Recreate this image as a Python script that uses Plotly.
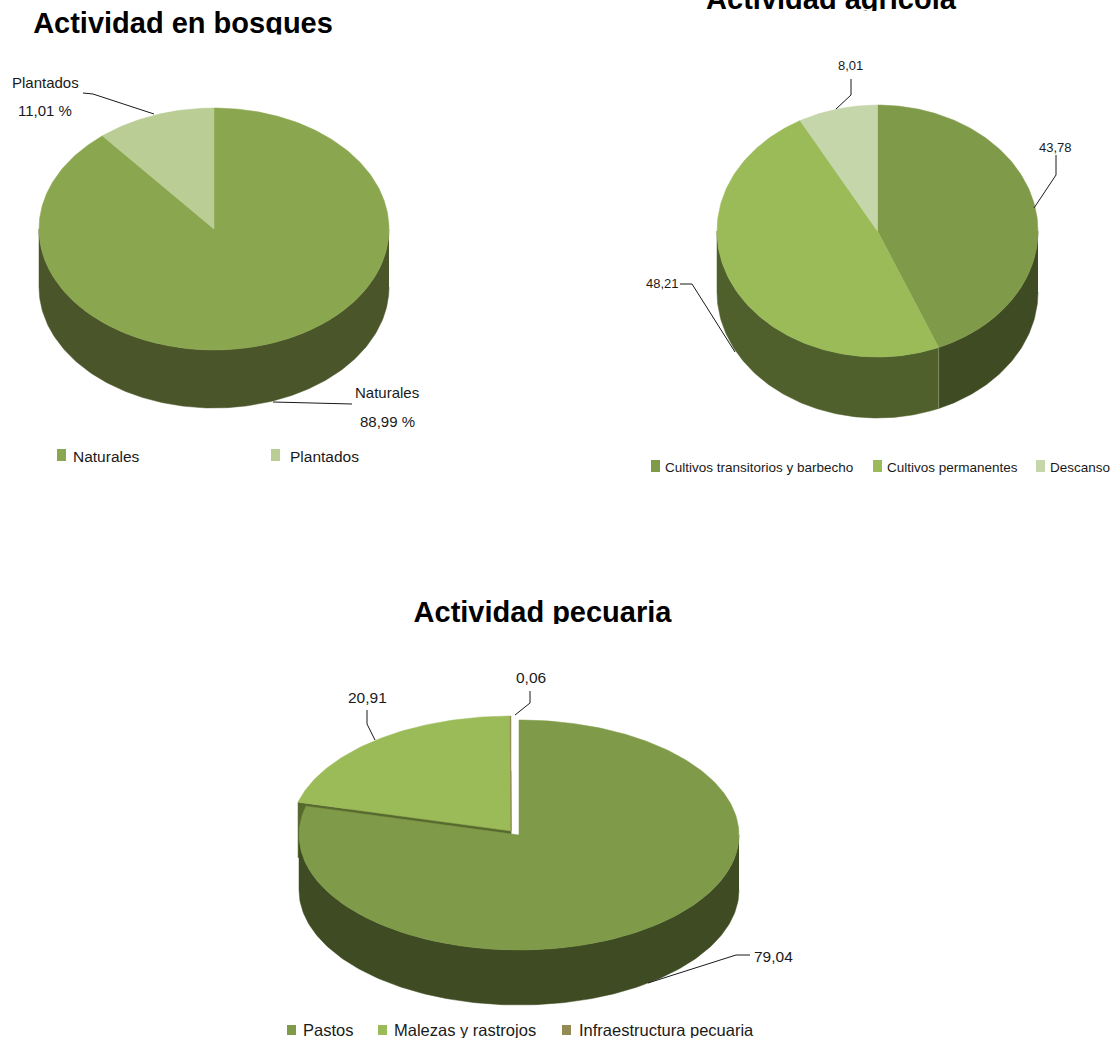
import numpy as np
import plotly.graph_objects as go

W, H = 1115, 1038

# ---- data ----
bosques_names = ["Naturales", "Plantados"]
bosques_values = [88.99, 11.01]
agricola_names = ["Cultivos transitorios y barbecho", "Cultivos permanentes", "Descanso"]
agricola_values = [43.78, 48.21, 8.01]
pecuaria_names = ["Pastos", "Malezas y rastrojos", "Infraestructura pecuaria"]
pecuaria_values = [79.04, 20.91, 0.06]
titles = ["Actividad en bosques", "Actividad agrícola", "Actividad pecuaria"]

# ---- styles and layout ----
NARROW = "Liberation Sans, sans-serif"
WIDE = "Liberation Sans, sans-serif"
TXT = "#1a1a1a"

pies = [
    dict(values=bosques_values, names=bosques_names, cx=214, cy=229, rx=175, ry=121, depth=58,
         top=["#8AA64F", "#B9CD95"], side=["#4A5529", "#6E7F48"], offsets=[(0, 0), (0, 0)]),
    dict(values=agricola_values, names=agricola_names, cx=877.5, cy=231, rx=160.5, ry=126, depth=61,
         top=["#7F9A48", "#9BBB59", "#C5D6AA"], side=["#3F4B23", "#50602D", "#6E7F48"],
         offsets=[(0, 0), (0, 0), (0, 0)]),
    dict(values=pecuaria_values, names=pecuaria_names, cx=519, cy=835, rx=220, ry=115, depth=55,
         top=["#7F9A48", "#9BBB59", "#948A54"], side=["#3F4C23", "#58692F", "#58692F"],
         offsets=[(0, 0), (-8, -4), (-8, -4)]),
]


def arc(p, a0, a1, dx=0, dy=0, drop=0):
    n = max(2, int(abs(a1 - a0) / 1.0) + 2)
    t = np.radians(np.linspace(a0, a1, n))
    return p["cx"] + dx + p["rx"] * np.sin(t), p["cy"] + dy + drop - p["ry"] * np.cos(t)


fig = go.Figure()


def poly(x, y, color):
    fig.add_trace(go.Scatter(x=list(x), y=list(y), mode="lines", fill="toself", fillcolor=color,
                             line=dict(color=color, width=0.5), hoverinfo="skip", showlegend=False))


for p in pies:
    total = sum(p["values"])
    angles = np.concatenate([[0], np.cumsum(p["values"]) / total * 360])
    exploded = any(o != (0, 0) for o in p["offsets"])

    # the inner and outer faces of exploded slices lie behind the main top
    if exploded:
        for i in range(1, len(p["values"])):
            a0, a1 = angles[i], angles[i + 1]
            dx, dy = p["offsets"][i]
            xa, ya = arc(p, a0, a1, dx, dy)
            poly(np.r_[p["cx"] + dx, xa, p["cx"] + dx],
                 np.r_[p["cy"] + dy + p["depth"], ya + p["depth"], p["cy"] + dy + p["depth"]],
                 p["side"][i])
            sx, sy = arc(p, a0, a0, dx, dy)
            poly([p["cx"] + dx, sx[0], sx[0], p["cx"] + dx],
                 [p["cy"] + dy, sy[0], sy[0] + p["depth"], p["cy"] + dy + p["depth"]],
                 p["side"][i])

    # outer wall, only the front half can be seen
    for i in range(len(p["values"])):
        a0, a1 = max(angles[i], 90), min(angles[i + 1], 270)
        if a1 <= a0:
            continue
        dx, dy = p["offsets"][i]
        xu, yu = arc(p, a0, a1, dx, dy)
        xl, yl = arc(p, a1, a0, dx, dy, p["depth"])
        poly(np.r_[xu, xl], np.r_[yu, yl], p["side"][i])

    # top faces
    for i in range(len(p["values"])):
        dx, dy = p["offsets"][i]
        xa, ya = arc(p, angles[i], angles[i + 1], dx, dy)
        poly(np.r_[p["cx"] + dx, xa, p["cx"] + dx], np.r_[p["cy"] + dy, ya, p["cy"] + dy], p["top"][i])

shapes = []

# seam between the two walls of the second pie
p = pies[1]
seam = sum(p["values"][:1]) / sum(p["values"]) * 360
sx, sy = arc(p, seam, seam)
shapes.append(dict(type="line", x0=sx[0], x1=sx[0], y0=sy[0], y1=sy[0] + p["depth"],
                   line=dict(color="#7C8B5C", width=1), xref="x", yref="y"))

# leader lines
leaders = [
    [(83, 93), (93, 94), (154, 114)],
    [(273, 402), (352, 404)],
    [(851, 79), (851, 95), (836, 109)],
    [(1056, 155), (1056, 175), (1034, 208)],
    [(680, 284), (692, 284), (735, 352)],
    [(367, 710), (367, 724), (375, 740)],
    [(530, 691), (530, 703), (515, 715)],
    [(750, 955), (736, 955), (648, 983)],
]
for pts in leaders:
    path = "M " + " L ".join(f"{x},{y}" for x, y in pts)
    shapes.append(dict(type="path", path=path, xref="x", yref="y", line=dict(color="#1a1a1a", width=1)))

annotations = []


def label(text, x, y, size, family=NARROW, anchor="center"):
    annotations.append(dict(text=text, x=x, y=y, xref="x", yref="y", showarrow=False, xanchor=anchor,
                            yanchor="middle", font=dict(family=family, size=size, color=TXT)))


def num(v, suffix=""):
    return f"{v:.2f}".replace(".", ",") + suffix


label(bosques_names[1], 45, 82, 15)
label(num(bosques_values[1], " %"), 45, 110, 15)
label(bosques_names[0], 387, 392, 15)
label(num(bosques_values[0], " %"), 387, 421, 15)
label(num(agricola_values[2]), 850, 65, 13)
label(num(agricola_values[0]), 1055, 147, 13)
label(num(agricola_values[1]), 662, 283, 13)
label(num(pecuaria_values[1]), 367, 697, 15.5, WIDE)
label(num(pecuaria_values[2]), 531, 677, 15.5, WIDE)
label(num(pecuaria_values[0]), 773, 956, 15.5, WIDE)

# hand-placed legends
legend_rows = [
    (pies[0], [57, 271], [71, 288], 449, 461, 456, 15.5, NARROW),
    (pies[1], [651, 873, 1036], [663, 885, 1048], 460, 472, 467, 13.5, NARROW),
    (pies[2], [287, 378, 562], [301, 392, 577], 1025, 1035, 1030, 16.5, WIDE),
]
for p, sq_x, txt_x, y0, y1, ym, size, fam in legend_rows:
    for i, name in enumerate(p["names"]):
        shapes.append(dict(type="rect", x0=sq_x[i], x1=sq_x[i] + 9, y0=y0, y1=y1, xref="x", yref="y",
                           fillcolor=p["top"][i], line=dict(width=0)))
        label(name, txt_x[i], ym, size, fam, "left")

# titles, each in its own small clipped panel so that the cut edges match
title_panels = [
    (titles[0], 183, 26, 0, 34.5),
    (titles[1], 831, 2, 0, 11),
    (titles[2], 542.5, 615, 590, 624),
]
layout_axes = {}
for k, (text, x, y, top, bottom) in enumerate(title_panels, start=2):
    fig.add_trace(go.Scatter(x=[x], y=[y], mode="text", text=[text], cliponaxis=True,
                             textposition="middle center", hoverinfo="skip", showlegend=False,
                             textfont=dict(family=WIDE, size=29, color="#000000", weight="bold"),
                             xaxis=f"x{k}", yaxis=f"y{k}"))
    layout_axes[f"xaxis{k}"] = dict(domain=[0, 1], range=[0, W], visible=False, anchor=f"y{k}")
    layout_axes[f"yaxis{k}"] = dict(domain=[1 - bottom / H, 1 - top / H], range=[bottom, top],
                                    visible=False, anchor=f"x{k}")

fig.update_layout(
    width=W, height=H, autosize=False,
    margin=dict(l=0, r=0, t=0, b=0),
    paper_bgcolor="white", plot_bgcolor="rgba(0,0,0,0)",
    xaxis=dict(range=[0, W], visible=False, domain=[0, 1]),
    yaxis=dict(range=[H, 0], visible=False, domain=[0, 1]),
    shapes=shapes, annotations=annotations, showlegend=False,
    **layout_axes,
)
fig.write_html("out.html", config=dict(displayModeBar=False),
               post_script="document.body.style.margin='0';document.body.style.overflow='hidden';")
